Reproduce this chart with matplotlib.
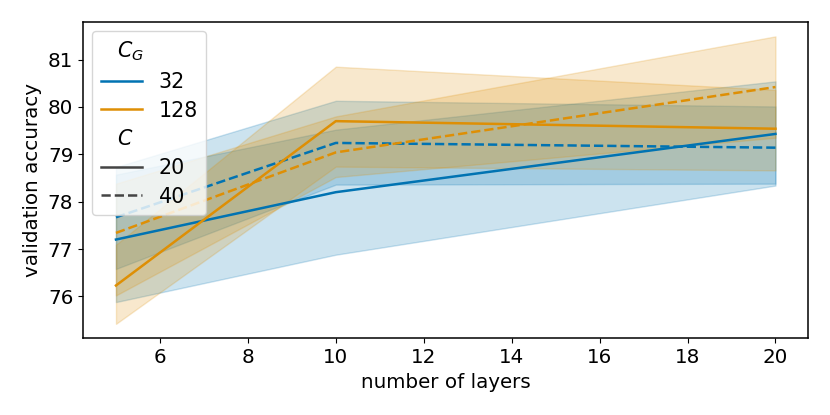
import numpy as np
import matplotlib
matplotlib.use('Agg')
import matplotlib.pyplot as plt
from matplotlib.lines import Line2D
from matplotlib.offsetbox import HPacker

layers = [5, 10, 20]

# C_G = 32
acc_32_20 = [77.20, 78.20, 79.43]
lo_32_20 = [75.88, 76.88, 78.34]
hi_32_20 = [78.57, 79.52, 80.54]

acc_32_40 = [77.67, 79.24, 79.14]
lo_32_40 = [76.58, 78.36, 78.38]
hi_32_40 = [78.73, 80.13, 80.01]

# C_G = 128
acc_128_20 = [76.23, 79.70, 79.54]
lo_128_20 = [75.42, 78.74, 78.66]
hi_128_20 = [77.09, 80.85, 80.36]

acc_128_40 = [77.34, 79.04, 80.42]
lo_128_40 = [76.02, 78.52, 79.35]
hi_128_40 = [78.38, 79.80, 81.49]

blue = '#0173b2'
orange = '#de8f05'

plt.rcParams['font.size'] = 14.3

fig = plt.figure(figsize=(8.3, 4.15), dpi=100)
ax = fig.add_axes([0.1, 0.185, 0.874, 0.762])

series = [
    (acc_32_20, lo_32_20, hi_32_20, blue, '-'),
    (acc_32_40, lo_32_40, hi_32_40, blue, '--'),
    (acc_128_20, lo_128_20, hi_128_20, orange, '-'),
    (acc_128_40, lo_128_40, hi_128_40, orange, '--'),
]
for acc, lo, hi, c, ls in series:
    ax.fill_between(layers, lo, hi, color=c, alpha=0.2, linewidth=1)
    ax.plot(layers, acc, color=c, linestyle=ls, linewidth=1.8)

ax.set_xlabel('number of layers')
ax.set_ylabel('validation accuracy')
for s in ax.spines.values():
    s.set_linewidth(1.1)

handles = [
    Line2D([], [], linestyle='', visible=False),
    Line2D([], [], color=blue, lw=1.8),
    Line2D([], [], color=orange, lw=1.8),
    Line2D([], [], linestyle='', visible=False),
    Line2D([], [], color='#444444', lw=1.8, ls='-'),
    Line2D([], [], color='#444444', lw=1.8, ls='--'),
]
labels = ['$C_G$', '32', '128', '$C$', '20', '40']
leg = ax.legend(handles, labels, loc='upper left', fontsize=14.9,
                borderaxespad=0.45, labelspacing=0.42)
# shift subtitle rows left like seaborn
for hpack in leg.findobj(HPacker):
    kids = hpack.get_children()
    if len(kids) != 2:
        continue
    area, txt = kids
    arts = area.get_children()
    if arts and not all(a.get_visible() for a in arts):
        area.set_width(0)

fig.savefig('out.png', dpi=100)
